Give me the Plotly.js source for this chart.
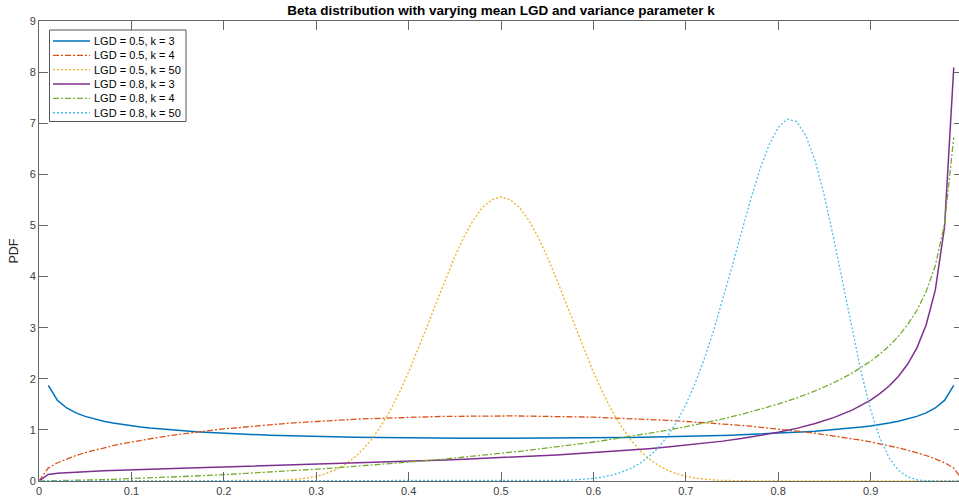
<!DOCTYPE html>
<html>
<head>
<meta charset="utf-8">
<script src="https://cdn.plot.ly/plotly-3.0.1.min.js"></script>
<style>
  html, body { margin: 0; padding: 0; overflow: hidden; background: #fff; }
  #chart { width: 964px; height: 502px; }
</style>
</head>
<body>
<div id="chart"></div>
<script>
// ---------- data ----------
const seriesNames = ["LGD = 0.5, k = 3", "LGD = 0.5, k = 4", "LGD = 0.5, k = 50",
                     "LGD = 0.8, k = 3", "LGD = 0.8, k = 4", "LGD = 0.8, k = 50"];

const xFull = [
  0.00, 0.01, 0.02, 0.03, 0.04, 0.05, 0.06, 0.07, 0.08, 0.09,
  0.10, 0.11, 0.12, 0.13, 0.14, 0.15, 0.16, 0.17, 0.18, 0.19,
  0.20, 0.21, 0.22, 0.23, 0.24, 0.25, 0.26, 0.27, 0.28, 0.29,
  0.30, 0.31, 0.32, 0.33, 0.34, 0.35, 0.36, 0.37, 0.38, 0.39,
  0.40, 0.41, 0.42, 0.43, 0.44, 0.45, 0.46, 0.47, 0.48, 0.49,
  0.50, 0.51, 0.52, 0.53, 0.54, 0.55, 0.56, 0.57, 0.58, 0.59,
  0.60, 0.61, 0.62, 0.63, 0.64, 0.65, 0.66, 0.67, 0.68, 0.69,
  0.70, 0.71, 0.72, 0.73, 0.74, 0.75, 0.76, 0.77, 0.78, 0.79,
  0.80, 0.81, 0.82, 0.83, 0.84, 0.85, 0.86, 0.87, 0.88, 0.89,
  0.90, 0.91, 0.92, 0.93, 0.94, 0.95, 0.96, 0.97, 0.98, 0.99,
  1.00
];

const pdfMid_k3 = [
  null, 1.871, 1.577, 1.429, 1.333, 1.264, 1.211, 1.169, 1.133, 1.103,
  1.078, 1.055, 1.035, 1.018, 1.002, 0.988, 0.975, 0.963, 0.952, 0.942,
  0.933, 0.925, 0.917, 0.910, 0.903, 0.897, 0.891, 0.886, 0.881, 0.876,
  0.872, 0.868, 0.864, 0.861, 0.858, 0.855, 0.852, 0.849, 0.847, 0.845,
  0.843, 0.842, 0.840, 0.839, 0.838, 0.837, 0.836, 0.835, 0.835, 0.835,
  0.835, 0.835, 0.835, 0.835, 0.836, 0.837, 0.838, 0.839, 0.840, 0.842,
  0.843, 0.845, 0.847, 0.849, 0.852, 0.855, 0.858, 0.861, 0.864, 0.868,
  0.872, 0.876, 0.881, 0.886, 0.891, 0.897, 0.903, 0.910, 0.917, 0.925,
  0.933, 0.942, 0.952, 0.963, 0.975, 0.988, 1.002, 1.018, 1.035, 1.055,
  1.078, 1.103, 1.133, 1.169, 1.211, 1.264, 1.333, 1.429, 1.577, 1.871,
  null
];

const pdfMid_k4 = [
  0, 0.253, 0.357, 0.434, 0.499, 0.555, 0.605, 0.650, 0.691, 0.729,
  0.764, 0.797, 0.828, 0.856, 0.884, 0.909, 0.934, 0.957, 0.978, 0.999,
  1.019, 1.037, 1.055, 1.072, 1.088, 1.103, 1.117, 1.131, 1.143, 1.156,
  1.167, 1.178, 1.188, 1.197, 1.206, 1.215, 1.222, 1.230, 1.236, 1.242,
  1.248, 1.252, 1.257, 1.261, 1.264, 1.267, 1.269, 1.271, 1.272, 1.273,
  1.273, 1.273, 1.272, 1.271, 1.269, 1.267, 1.264, 1.261, 1.257, 1.252,
  1.248, 1.242, 1.236, 1.230, 1.222, 1.215, 1.206, 1.197, 1.188, 1.178,
  1.167, 1.156, 1.143, 1.131, 1.117, 1.103, 1.088, 1.072, 1.055, 1.037,
  1.019, 0.999, 0.978, 0.957, 0.934, 0.909, 0.884, 0.856, 0.828, 0.797,
  0.764, 0.729, 0.691, 0.650, 0.605, 0.555, 0.499, 0.434, 0.357, 0.253,
  0
];

const xMid_k50 = [
  0.00,
  0.20, 0.21, 0.22, 0.23, 0.24, 0.25, 0.26, 0.27, 0.28, 0.29,
  0.30, 0.31, 0.32, 0.33, 0.34, 0.35, 0.36, 0.37, 0.38, 0.39,
  0.40, 0.41, 0.42, 0.43, 0.44, 0.45, 0.46, 0.47, 0.48, 0.49,
  0.50, 0.51, 0.52, 0.53, 0.54, 0.55, 0.56, 0.57, 0.58, 0.59,
  0.60, 0.61, 0.62, 0.63, 0.64, 0.65, 0.66, 0.67, 0.68, 0.69,
  0.70, 0.71, 0.72, 0.73, 0.74, 0.75, 0.76, 0.77, 0.78, 0.79,
  0.80,
  1.00
];
const pdfMid_k50 = [
  0,
  0.0002, 0.0004, 0.0008, 0.0017, 0.0034, 0.0064, 0.0118, 0.0208, 0.0354, 0.0581,
  0.0924, 0.1423, 0.2129, 0.3098, 0.4388, 0.6057, 0.8157, 1.0728, 1.3782, 1.7318,
  2.1290, 2.5625, 3.0210, 3.4899, 3.9515, 4.3877, 4.7785, 5.1052, 5.3515, 5.5047,
  5.5567, 5.5047, 5.3515, 5.1052, 4.7785, 4.3877, 3.9515, 3.4899, 3.0210, 2.5625,
  2.1290, 1.7318, 1.3782, 1.0728, 0.8157, 0.6057, 0.4388, 0.3098, 0.2129, 0.1423,
  0.0924, 0.0581, 0.0354, 0.0208, 0.0118, 0.0064, 0.0034, 0.0017, 0.0008, 0.0004,
  0.0002,
  0
];

const xHigh = [
  0.00, 0.01, 0.02, 0.03, 0.04, 0.05, 0.06, 0.07, 0.08, 0.09, 0.10,
  0.12, 0.14, 0.16, 0.18, 0.20, 0.22, 0.24, 0.26, 0.28, 0.30,
  0.32, 0.34, 0.36, 0.38, 0.40, 0.42, 0.44, 0.46, 0.48, 0.50,
  0.52, 0.54, 0.56, 0.58, 0.60, 0.62, 0.64, 0.66, 0.68, 0.70,
  0.72, 0.74, 0.76, 0.78, 0.80, 0.82, 0.84, 0.86, 0.88, 0.90,
  0.91, 0.92, 0.93, 0.94, 0.95, 0.96, 0.97, 0.98, 0.99
];
const pdfHigh_k3 = [
  0, 0.1294, 0.1497, 0.1635, 0.1744, 0.1837, 0.1919, 0.1994, 0.2064, 0.2129, 0.2192,
  0.2309, 0.2420, 0.2527, 0.2631, 0.2734, 0.2836, 0.2939, 0.3043, 0.3148, 0.3255,
  0.3365, 0.3478, 0.3595, 0.3715, 0.3841, 0.3972, 0.4108, 0.4252, 0.4403, 0.4563,
  0.4732, 0.4912, 0.5104, 0.5311, 0.5532, 0.5772, 0.6033, 0.6318, 0.6632, 0.6978,
  0.7365, 0.7800, 0.8293, 0.8860, 0.9520, 1.0299, 1.1238, 1.2398, 1.3874, 1.5833,
  1.7083, 1.8591, 2.0458, 2.2836, 2.6000, 3.0461, 3.7334, 4.9691, 8.0886
];
const pdfHigh_k4 = [
  0, 0.0017, 0.0046, 0.0081, 0.0121, 0.0167, 0.0216, 0.0269, 0.0326, 0.0386, 0.0449,
  0.0585, 0.0732, 0.0891, 0.1061, 0.1242, 0.1434, 0.1636, 0.1850, 0.2075, 0.2311,
  0.2559, 0.2820, 0.3092, 0.3378, 0.3677, 0.3991, 0.4320, 0.4664, 0.5026, 0.5406,
  0.5805, 0.6225, 0.6668, 0.7135, 0.7630, 0.8153, 0.8710, 0.9304, 0.9939, 1.0622,
  1.1358, 1.2157, 1.3030, 1.3992, 1.5060, 1.6260, 1.7629, 1.9220, 2.1111, 2.3434,
  2.4823, 2.6422, 2.8297, 3.0550, 3.3352, 3.7006, 4.2124, 5.0262, 6.7265
];

const xHigh_k50 = [
  0.00,
  0.50, 0.51, 0.52, 0.53, 0.54, 0.55, 0.56, 0.57, 0.58, 0.59,
  0.60, 0.61, 0.62, 0.63, 0.64, 0.65, 0.66, 0.67, 0.68, 0.69,
  0.70, 0.71, 0.72, 0.73, 0.74, 0.75, 0.76, 0.77, 0.78, 0.79,
  0.80, 0.81, 0.82, 0.83, 0.84, 0.85, 0.86, 0.87, 0.88, 0.89,
  0.90, 0.91, 0.92, 0.93, 0.94, 0.95, 0.96, 0.97, 0.98, 0.99,
  1.00
];
const pdfHigh_k50 = [
  0,
  0.0004, 0.0006, 0.0011, 0.0019, 0.0032, 0.0053, 0.0086, 0.0139, 0.0219, 0.0340,
  0.0520, 0.0783, 0.1159, 0.1690, 0.2423, 0.3420, 0.4747, 0.6484, 0.8711, 1.1506,
  1.4941, 1.9057, 2.3879, 2.9364, 3.5416, 4.1890, 4.8495, 5.4959, 6.0844, 6.5733,
  6.9179, 7.0803, 7.0302, 6.7546, 6.2609, 5.5743, 4.7501, 3.8484, 2.9441, 2.1079,
  1.3960, 0.8425, 0.4537, 0.2117, 0.0820, 0.0247, 0.0052, 0.0006, 0, 0,
  0
];

const xTickVals = [0, 0.1, 0.2, 0.3, 0.4, 0.5, 0.6, 0.7, 0.8, 0.9];
const xTickText = ["0", "0.1", "0.2", "0.3", "0.4", "0.5", "0.6", "0.7", "0.8", "0.9"];
const yTickVals = [0, 1, 2, 3, 4, 5, 6, 7, 8, 9];

// ---------- styling ----------
const colors = ["#0072BD", "#D95319", "#EDB120", "#7E2F8E", "#77AC30", "#4DBEEE"];
const dashes = ["solid", "6px,2px,2px,2px", "2px,2px", "solid", "6px,2px,2px,2px", "2px,2px"];
const widths = [1.5, 1.3, 1.3, 1.5, 1.3, 1.3];
const FONT = "'Liberation Sans', Arial, Helvetica, sans-serif";

function mk(x, y, i) {
  return {
    type: "scatter", mode: "lines", x: x, y: y, name: seriesNames[i],
    connectgaps: false, showlegend: false,
    line: { color: colors[i], width: widths[i], dash: dashes[i] },
    hoverinfo: "skip"
  };
}

const traces = [
  mk(xFull, pdfMid_k3, 0),
  mk(xFull, pdfMid_k4, 1),
  mk(xMid_k50, pdfMid_k50, 2),
  mk(xHigh, pdfHigh_k3, 3),
  mk(xHigh, pdfHigh_k4, 4),
  mk(xHigh_k50, pdfHigh_k50, 5)
];

// ---------- MATLAB-like compact legend (box, samples, labels) ----------
const W = 964, H = 502, ML = 39, MR = 1, MT = 21, MB = 21;
const pw = W - ML - MR, ph = H - MT - MB;
const px2x = p => (p - ML) / pw;
const py2y = p => (H - MB - p) / ph;

const shapes = [{
  type: "rect", xref: "paper", yref: "paper", layer: "above",
  x0: px2x(49.5), x1: px2x(186), y0: py2y(121.5), y1: py2y(30),
  line: { color: "#555555", width: 1 }, fillcolor: "#ffffff"
}];
const annotations = [];
seriesNames.forEach((name, i) => {
  const cy = 41 + 14.35 * i;
  shapes.push({
    type: "line", xref: "paper", yref: "paper", layer: "above",
    x0: px2x(53), x1: px2x(90), y0: py2y(cy), y1: py2y(cy),
    line: { color: colors[i], width: widths[i], dash: dashes[i] }
  });
  annotations.push({
    xref: "paper", yref: "paper", x: px2x(91.5), y: py2y(cy),
    xanchor: "left", yanchor: "middle", showarrow: false,
    text: name, font: { family: FONT, size: 11, color: "#000000" }
  });
});

const axisCommon = {
  showgrid: false, zeroline: false,
  showline: true, linecolor: "#666666", linewidth: 1,
  mirror: "ticks", ticks: "inside", ticklen: 9, tickwidth: 1, tickcolor: "#666666",
  tickfont: { family: FONT, size: 11, color: "#404040" }
};

const layout = {
  width: W, height: H,
  margin: { l: ML, r: MR, t: MT, b: MB, pad: 0 },
  paper_bgcolor: "#ffffff", plot_bgcolor: "#ffffff",
  showlegend: false,
  title: {
    text: "Beta distribution with varying mean LGD and variance parameter k",
    font: { family: FONT, size: 13.5, color: "#000000", weight: "bold" },
    x: 0.5, xref: "paper", xanchor: "center",
    y: 0.979, yref: "container", yanchor: "middle"
  },
  xaxis: Object.assign({}, axisCommon, {
    range: [0, 1], tickvals: xTickVals, ticktext: xTickText
  }),
  yaxis: Object.assign({}, axisCommon, {
    range: [0, 9], tickvals: yTickVals,
    title: { text: "PDF", font: { family: FONT, size: 12.5, color: "#262626" }, standoff: 8 }
  }),
  shapes: shapes,
  annotations: annotations
};

Plotly.newPlot("chart", traces, layout, { displayModeBar: false, staticPlot: true });
</script>
</body>
</html>
